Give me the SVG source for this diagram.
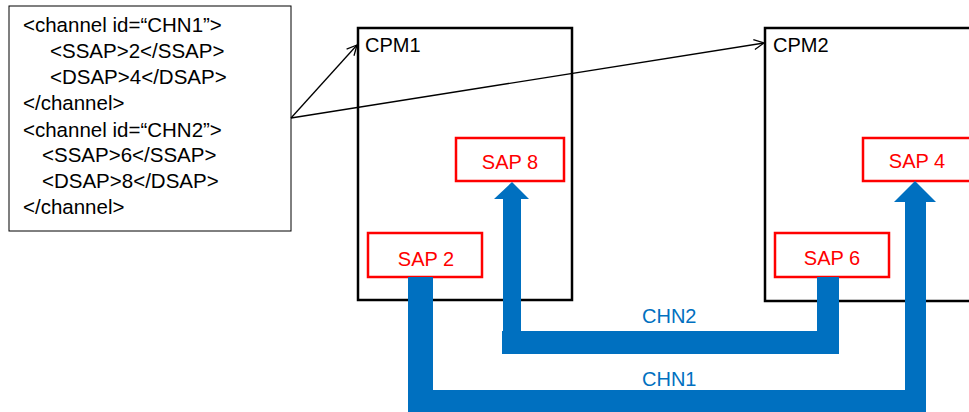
<svg xmlns="http://www.w3.org/2000/svg" width="969" height="412" viewBox="0 0 969 412">
  <style>
    text { font-family: "Liberation Sans", Arial, sans-serif; font-size: 20px; }
    .xml { fill: #000; font-size: 20.5px; }
    .cpm { fill: #fff; stroke: #000; stroke-width: 2.5; }
    .cpm-label { fill: #000; }
    .sap { fill: #fff; stroke: #ff0000; stroke-width: 2.5; }
    .sap-label { fill: #ff0000; text-anchor: middle; }
    .pipe { fill: #0070c0; }
    .chn-label { fill: #0070c0; }
    .ref { fill: none; stroke: #000; stroke-width: 1.3; }
  </style>
  <defs>
    <marker id="open-arrow" viewBox="0 0 12 12" refX="11" refY="6" markerWidth="12" markerHeight="12" markerUnits="userSpaceOnUse" orient="auto">
      <path d="M1,1 L11,6 L1,11" fill="none" stroke="#000" stroke-width="1.3"/>
    </marker>
  </defs>

  <rect width="969" height="412" fill="#fff"/>

  <!-- channel configuration listing -->
  <g id="config">
    <rect x="9" y="6" width="282" height="225" fill="#fff" stroke="#000" stroke-width="1"/>
    <text class="xml" x="23" y="31.5">&lt;channel id=“CHN1”&gt;</text>
    <text class="xml" x="50" y="57.5">&lt;SSAP&gt;2&lt;/SSAP&gt;</text>
    <text class="xml" x="50" y="83.5">&lt;DSAP&gt;4&lt;/DSAP&gt;</text>
    <text class="xml" x="23" y="109.5">&lt;/channel&gt;</text>
    <text class="xml" x="23" y="136.5">&lt;channel id=“CHN2”&gt;</text>
    <text class="xml" x="42" y="162">&lt;SSAP&gt;6&lt;/SSAP&gt;</text>
    <text class="xml" x="42" y="188">&lt;DSAP&gt;8&lt;/DSAP&gt;</text>
    <text class="xml" x="23" y="214">&lt;/channel&gt;</text>
  </g>

  <!-- processing modules -->
  <g id="cpm1">
    <rect class="cpm" x="358" y="28" width="214" height="272"/>
    <text class="cpm-label" x="365" y="52">CPM1</text>
  </g>
  <g id="cpm2">
    <rect class="cpm" x="765" y="28" width="220" height="273"/>
    <text class="cpm-label" x="773" y="52">CPM2</text>
  </g>

  <!-- service access points -->
  <g id="sap8">
    <rect class="sap" x="456" y="138" width="108" height="43"/>
    <text class="sap-label" x="510" y="169">SAP 8</text>
  </g>
  <g id="sap2">
    <rect class="sap" x="368" y="233" width="114" height="44"/>
    <text class="sap-label" x="426" y="266">SAP 2</text>
  </g>
  <g id="sap4">
    <rect class="sap" x="863" y="138" width="108" height="43"/>
    <text class="sap-label" x="917" y="168">SAP 4</text>
  </g>
  <g id="sap6">
    <rect class="sap" x="775" y="233" width="114" height="44"/>
    <text class="sap-label" x="832" y="265">SAP 6</text>
  </g>

  <!-- connectors: configuration references and channel pipes -->
  <g id="connectors">
    <line class="ref" x1="291" y1="118" x2="357" y2="45" marker-end="url(#open-arrow)"/>
    <line class="ref" x1="291" y1="118" x2="764" y2="43" marker-end="url(#open-arrow)"/>

    <!-- CHN2: SAP 6 -> SAP 8 -->
    <path class="pipe" d="M817,277 L839,277 L839,354 L502,354 L502,331 L503,331 L503,199 L494,199 L512,182 L529,199 L521,199 L521,331 L817,331 Z"/>
    <text class="chn-label" x="642" y="323">CHN2</text>

    <!-- CHN1: SAP 2 -> SAP 4 -->
    <path class="pipe" d="M408,277 L433,277 L433,390 L905,390 L905,202 L894,202 L915,181 L936,202 L926,202 L926,412 L408,412 Z"/>
    <text class="chn-label" x="642" y="386">CHN1</text>
  </g>
</svg>
